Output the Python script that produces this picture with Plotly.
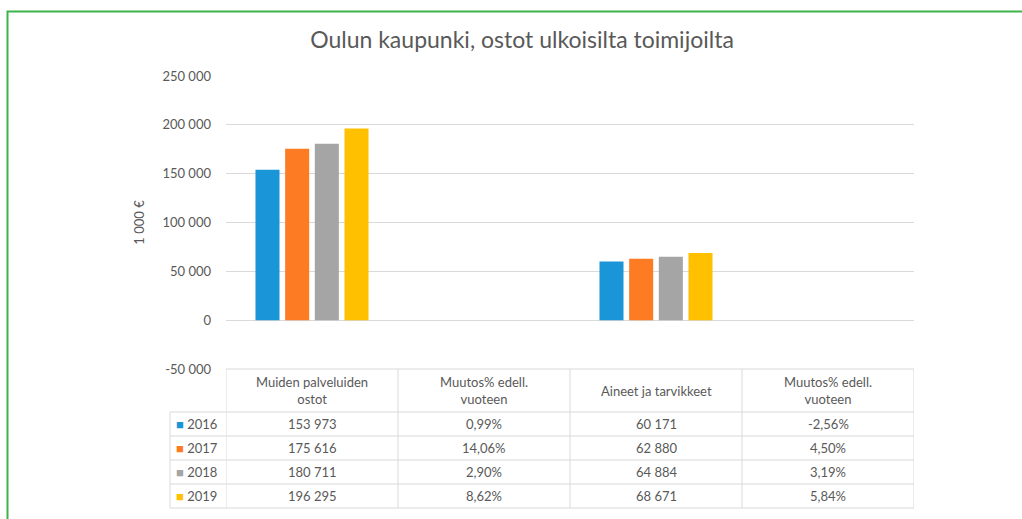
import plotly.graph_objects as go

# ---- data ----
categories = ["Muiden palveluiden<br>ostot", "Muutos% edell.<br>vuoteen",
              "Aineet ja tarvikkeet", "Muutos% edell.<br>vuoteen"]
years = ["2016", "2017", "2018", "2019"]
palvelut = [153973, 175616, 180711, 196295]          # 1 000 €
palvelut_muutos = [0.99, 14.06, 2.90, 8.62]          # %
aineet = [60171, 62880, 64884, 68671]                # 1 000 €
aineet_muutos = [-2.56, 4.50, 3.19, 5.84]            # %
tick_vals = [-50000, 0, 50000, 100000, 150000, 200000, 250000]
tick_text = ["-50 000", "0", "50 000", "100 000", "150 000", "200 000", "250 000"]
colors = ["#1a96d8", "#fd7b22", "#a5a5a5", "#ffc000"]

FONT = "Lato, 'Open Sans', sans-serif"
TXT = "#595959"
GRID = "#d9d9d9"
W, H = 1022, 519
L, R, T, B = 226, 108, 76, 150
plot_h = H - T - B
plot_w = W - L - R


def num(v):
    return f"{v:,}".replace(",", " ")


def pct(v):
    return f"{v:.2f}%".replace(".", ",")


def py(p):  # pixel y -> paper y
    return (H - B - p) / plot_h


def pxx(p):  # pixel x -> paper x
    return (p - L) / plot_w


fig = go.Figure()
xcat = list(range(len(categories)))
for i, yr in enumerate(years):
    vals = [palvelut[i], palvelut_muutos[i] / 100, aineet[i], aineet_muutos[i] / 100]
    fig.add_trace(go.Bar(x=xcat, y=vals, name=yr, marker=dict(color=colors[i], line=dict(width=0)),
                         showlegend=False))

shapes = []
annotations = []
# table geometry
x_left = pxx(170)            # paper x of legend column left edge
col_edges = [-0.5, 0.5, 1.5, 2.5, 3.5]
row_lines = [412, 436, 460, 484, 508]
top_line = H - B
line_style = dict(color=GRID, width=1)
shapes.append(dict(type="line", xref="paper", yref="paper", x0=0, x1=1,
                   y0=py(top_line), y1=py(top_line), line=line_style))
for rl in row_lines:
    shapes.append(dict(type="line", xref="paper", yref="paper", x0=x_left, x1=1,
                       y0=py(rl), y1=py(rl), line=line_style))
for ce in col_edges:
    shapes.append(dict(type="line", xref="x", yref="paper", x0=ce, x1=ce,
                       y0=py(top_line), y1=py(row_lines[-1]), line=line_style))
shapes.append(dict(type="line", xref="paper", yref="paper", x0=x_left, x1=x_left,
                   y0=py(row_lines[0]), y1=py(row_lines[-1]), line=line_style))

# header texts
for j, c in enumerate(categories):
    annotations.append(dict(text=c, xref="x", yref="paper", x=j, y=py((top_line + row_lines[0]) / 2),
                            showarrow=False, xanchor="center", yanchor="middle",
                            font=dict(family=FONT, size=13, color=TXT)))
# rows
columns = [[num(v) for v in palvelut], [pct(v) for v in palvelut_muutos],
           [num(v) for v in aineet], [pct(v) for v in aineet_muutos]]
for i, yr in enumerate(years):
    yc = py((row_lines[i] + row_lines[i + 1]) / 2)
    annotations.append(dict(text=f"<span style='color:{colors[i]}'>■</span> {yr}", xref="paper", yref="paper",
                            x=pxx(174), y=yc, showarrow=False, xanchor="left", yanchor="middle",
                            font=dict(family=FONT, size=13, color=TXT)))
    for j in range(4):
        annotations.append(dict(text=columns[j][i], xref="x", yref="paper", x=j, y=yc,
                                showarrow=False, xanchor="center", yanchor="middle",
                                font=dict(family=FONT, size=13, color=TXT)))

# green frame: rectangle whose right and bottom edges fall outside the page
GREEN = "#3cb44b"
shapes.append(dict(type="rect", xref="paper", yref="paper", x0=pxx(7.5), x1=pxx(W + 20),
                   y0=py(H + 20), y1=py(11.5), line=dict(color=GREEN, width=2),
                   fillcolor="rgba(0,0,0,0)", layer="below"))

fig.update_layout(
    width=W, height=H,
    margin=dict(l=L, r=R, t=T, b=B, pad=0),
    paper_bgcolor="white", plot_bgcolor="rgba(0,0,0,0)",
    barmode="group", bargap=0.31, bargroupgap=0.19,
    separators=", ",
    font=dict(family=FONT, size=13, color=TXT),
    title=dict(text="Oulun kaupunki, ostot ulkoisilta toimijoilta", xref="container", yref="container",
               x=522 / W, y=1 - 40 / H, xanchor="center", yanchor="middle",
               font=dict(family=FONT, size=23, color=TXT)),
    xaxis=dict(range=[-0.5, 3.5], showticklabels=False, showgrid=False, zeroline=False,
               showline=False, ticks="", fixedrange=True),
    yaxis=dict(range=[-50000, 250000], tickvals=tick_vals, ticktext=tick_text,
               showgrid=True, gridcolor=GRID, gridwidth=1, zeroline=False, showline=False,
               ticks="", ticklabelstandoff=14, tickfont=dict(family=FONT, size=13, color=TXT),
               title=dict(text="1 000 €", standoff=14, font=dict(family=FONT, size=13, color=TXT))),
    shapes=shapes, annotations=annotations,
)

fig.write_html("out.html", config={"displayModeBar": False},
               post_script="document.body.style.margin='0';document.body.style.overflow='hidden';")
